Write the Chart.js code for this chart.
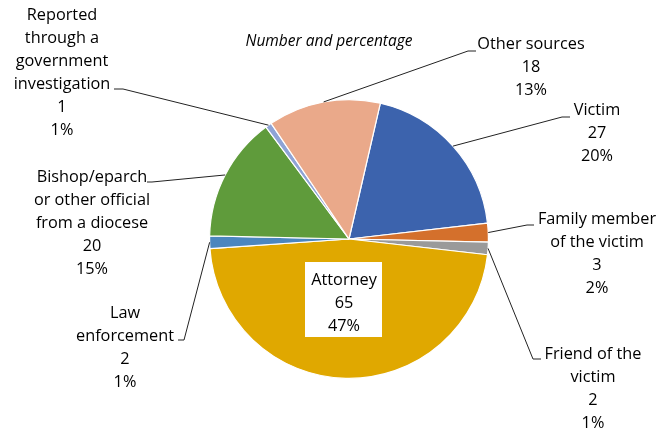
<!DOCTYPE html>
<html>
<head>
<meta charset="utf-8">
<script src="https://cdn.jsdelivr.net/npm/chart.js@4.4.1/dist/chart.umd.min.js"></script>
<style>
  html, body { margin: 0; padding: 0; background: #fff; }
  #wrap { width: 665px; height: 432px; position: relative; }
</style>
</head>
<body>
<div id="wrap"><canvas id="c" width="665" height="432"></canvas></div>
<script>
const categories = ["Victim", "Family member of the victim", "Friend of the victim", "Attorney", "Law enforcement", "Bishop/eparch or other official from a diocese", "Reported through a government investigation", "Other sources"];
const counts = [27, 3, 2, 65, 2, 20, 1, 18];
const percentLabels = ["20%", "2%", "1%", "47%", "1%", "15%", "1%", "13%"];
const labelLines = [
  ["Victim"],
  ["Family member", "of the victim"],
  ["Friend of the", "victim"],
  ["Attorney"],
  ["Law", "enforcement"],
  ["Bishop/eparch", "or other official", "from a diocese"],
  ["Reported", "through a", "government", "investigation"],
  ["Other sources"]
];
const colors = ["#3c63ad", "#d4702c", "#9a9a9a", "#e0a800", "#4b86be", "#5f9b3b", "#8ea3d6", "#eaa98a"];
const title = "Number and percentage";

// layout of the label blocks: centre x, first-line y, elbow point, tick end
const labelLayout = [
  { cx: 597, y0: 110, elbow: [562, 117], tick: [570, 117] },
  { cx: 597, y0: 219, elbow: [527, 225], tick: [534, 225] },
  { cx: 593, y0: 354, elbow: [533, 359], tick: [541, 359] },
  { cx: 344, y0: 280, inside: true, box: [305, 262, 77, 75] },
  { cx: 125, y0: 313, elbow: [184, 340], tick: [178, 340] },
  { cx: 92,  y0: 177, elbow: [152, 182], tick: [147, 182] },
  { cx: 62,  y0: 15,  elbow: [123, 89],  tick: [114, 89] },
  { cx: 531, y0: 44,  elbow: [468, 51],  tick: [476, 51] }
];
const lineH = 23;
const FONT = '16.3px "Open Sans", sans-serif';

const labelPlugin = {
  id: 'labels',
  afterDraw(chart) {
    const ctx = chart.ctx;
    const meta = chart.getDatasetMeta(0);
    ctx.save();
    // title
    ctx.font = 'italic 15.5px "Open Sans", sans-serif';
    ctx.fillStyle = '#000';
    ctx.textAlign = 'center';
    ctx.textBaseline = 'middle';
    ctx.fillText(title, 329, 42);

    meta.data.forEach((arc, i) => {
      const lay = labelLayout[i];
      const lines = labelLines[i].concat([String(counts[i]), percentLabels[i]]);
      if (lay.inside) {
        ctx.fillStyle = '#fff';
        ctx.fillRect(lay.box[0], lay.box[1], lay.box[2], lay.box[3]);
      } else {
        const mid = (arc.startAngle + arc.endAngle) / 2;
        const ax = arc.x + Math.cos(mid) * arc.outerRadius;
        const ay = arc.y + Math.sin(mid) * arc.outerRadius;
        ctx.strokeStyle = '#222';
        ctx.lineWidth = 1;
        ctx.beginPath();
        ctx.moveTo(ax, ay);
        ctx.lineTo(lay.elbow[0], lay.elbow[1]);
        ctx.lineTo(lay.tick[0], lay.tick[1]);
        ctx.stroke();
      }
      ctx.font = FONT;
      ctx.fillStyle = '#000';
      ctx.textAlign = 'center';
      ctx.textBaseline = 'middle';
      lines.forEach((t, k) => ctx.fillText(t, lay.cx, lay.y0 + k * lineH));
    });
    ctx.restore();
  }
};

new Chart(document.getElementById('c'), {
  type: 'pie',
  data: {
    labels: categories,
    datasets: [{
      data: counts,
      backgroundColor: colors,
      borderColor: '#ffffff',
      borderWidth: 1.2
    }]
  },
  options: {
    responsive: false,
    animation: false,
    rotation: 13,
    layout: { padding: { left: 33, right: 0, top: 99, bottom: 53 } },
    plugins: { legend: { display: false }, tooltip: { enabled: false }, title: { display: false } }
  },
  plugins: [labelPlugin]
});
</script>
</body>
</html>
